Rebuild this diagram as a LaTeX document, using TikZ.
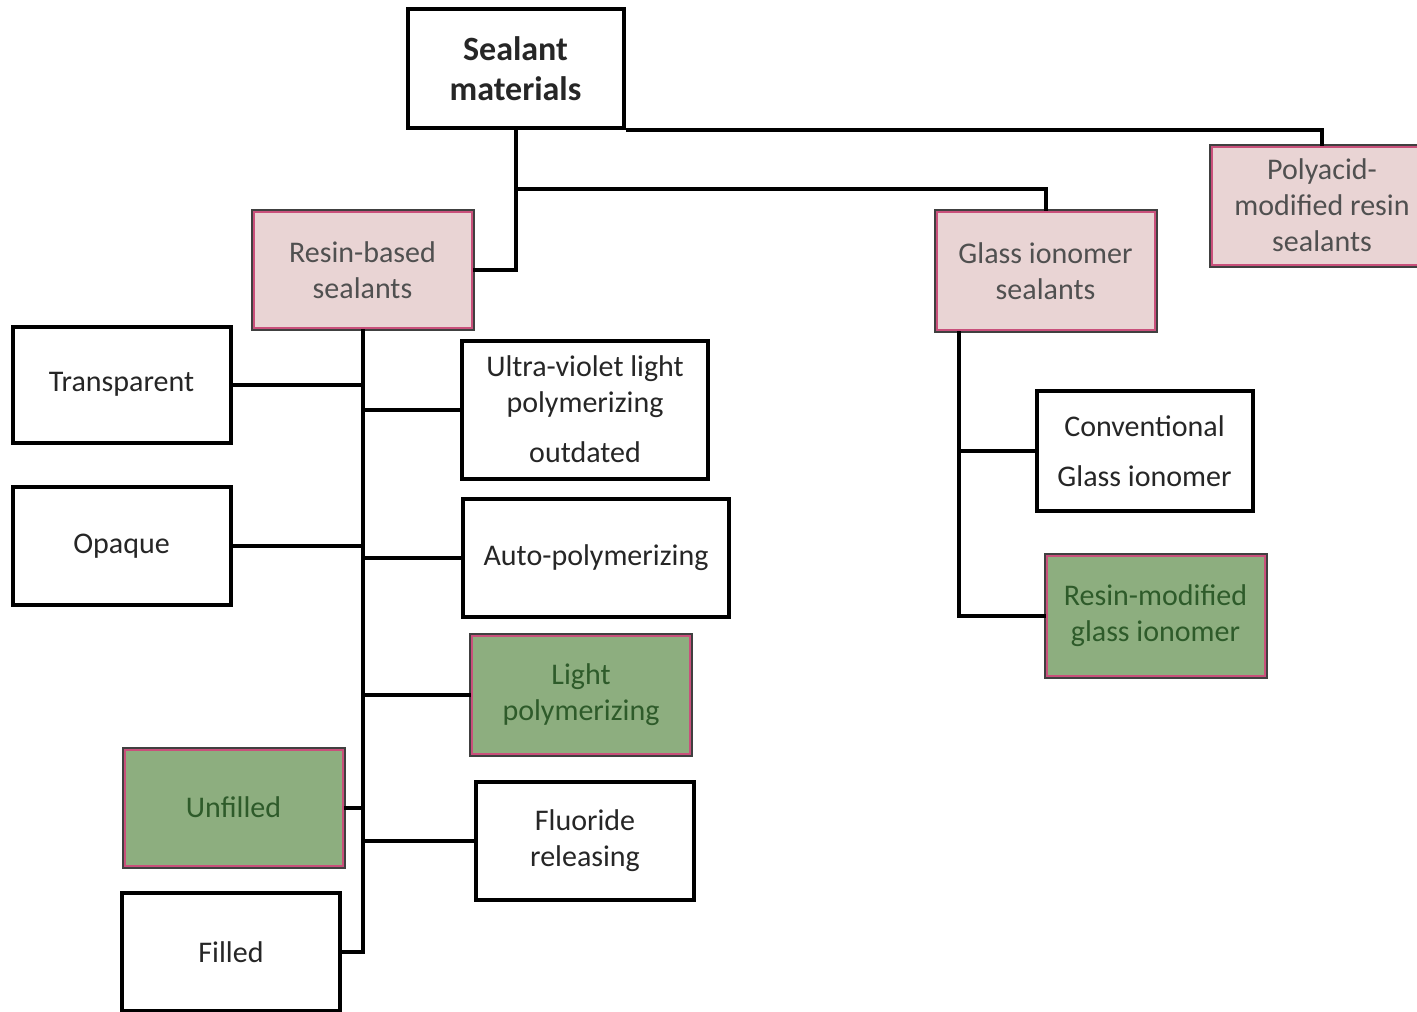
\documentclass[tikz,border=0pt]{standalone}
\usepackage{fontspec}
\setmainfont{Carlito}
\usetikzlibrary{positioning,calc}
\definecolor{pinkfill}{HTML}{E9D4D4}
\definecolor{pinkline}{HTML}{C9507B}
\definecolor{greenfill}{HTML}{8DAE7F}
\definecolor{greentext}{HTML}{2E5B2A}
\definecolor{graytext}{HTML}{505050}
\tikzset{ %all sizes in pixels of the sketch
  {box/.style} ={draw=black,line width=2pt,fill=white,align=center,inner sep=0pt,
    text=black!85,font=\fontsize{15}{18}\selectfont},
  {pinkbox/.style} ={box,draw=pinkline,line width=1pt,fill=pinkfill,text=graytext,
    preaction={draw=black!75,line width=3pt}},
  {greenbox/.style} ={pinkbox,fill=greenfill,text=greentext},
  {tree/.style} ={draw,line width=2pt},
 }
\begin{document}
\begin{tikzpicture}[x=0.5pt,y=-0.5pt]
        \useasboundingbox (0,0) rectangle (1417,1011);
        \node[box,minimum width=108pt,minimum height=59pt,
              font=\fontsize{17}{20}\selectfont\bfseries] (sealant) at (515.5,68.5)
                {Sealant\\materials};
        \node[pinkbox,minimum width=109pt,minimum height=58pt] (resin) at (362.5,270)
                {Resin-based\\sealants};
        \node[pinkbox,minimum width=109pt,minimum height=59pt] (glass) at (1045.5,271)
                {Glass ionomer\\sealants};
        \node[pinkbox,minimum width=110pt,minimum height=59pt] (poly) at (1322,205.5)
                {Polyacid-\\modified resin\\sealants};
        % resin-based branch
        \node[box,minimum width=109pt,minimum height=58pt] (trans) at (121.5,384.5)
                {Transparent};
        \node[box,minimum width=109pt,minimum height=59pt] (opaque) at (121.5,546)
                {Opaque};
        \node[greenbox,minimum width=109pt,minimum height=58pt] (unfilled) at (233.5,807.5)
                {Unfilled};
        \node[box,minimum width=109pt,minimum height=59pt] (filled) at (231,952)
                {Filled};
        \node[box,minimum width=123pt,minimum height=69pt] (uv) at (585,409.5)
                {Ultra-violet light\\polymerizing\\[7pt]outdated};
        \node[box,minimum width=133pt,minimum height=59pt] (auto) at (596,558)
                {Auto-polymerizing};
        \node[greenbox,minimum width=109pt,minimum height=59pt] (light) at (581,695)
                {Light\\polymerizing};
        \node[box,minimum width=109pt,minimum height=59pt] (fluor) at (585,840.5)
                {Fluoride\\releasing};
        % glass ionomer branch
        \node[box,minimum width=108pt,minimum height=60pt] (conv) at (1144.5,451)
                {\parbox[c]{100pt}{\centering\fontsize{15}{25}\selectfont Conventional\\Glass ionomer}};
        \node[greenbox,minimum width=109pt,minimum height=60pt] (rmgi) at (1155.5,616)
                {Resin-modified\\glass ionomer};
        % connectors
        \path[tree] (sealant.south) |- (resin.east);
        \path[tree] ($(sealant.south)+(0,59)$) -| (glass.north);
        \path[tree] (sealant.south east) -| (poly.north);
        \path[tree] (resin.south) |- (trans.east)
                (resin.south) |- (opaque.east)
                (resin.south) |- (unfilled.east)
                (resin.south) |- (filled.east);
        \path[tree] (resin.south) |- (uv.west)
                (resin.south) |- (auto.west)
                (resin.south) |- (light.west)
                (resin.south) |- (fluor.west);
        \path[tree] ($(glass.south)+(-87,0)$) |- (conv.west)
                ($(glass.south)+(-87,0)$) |- (rmgi.west);
\end{tikzpicture}
\end{document}
